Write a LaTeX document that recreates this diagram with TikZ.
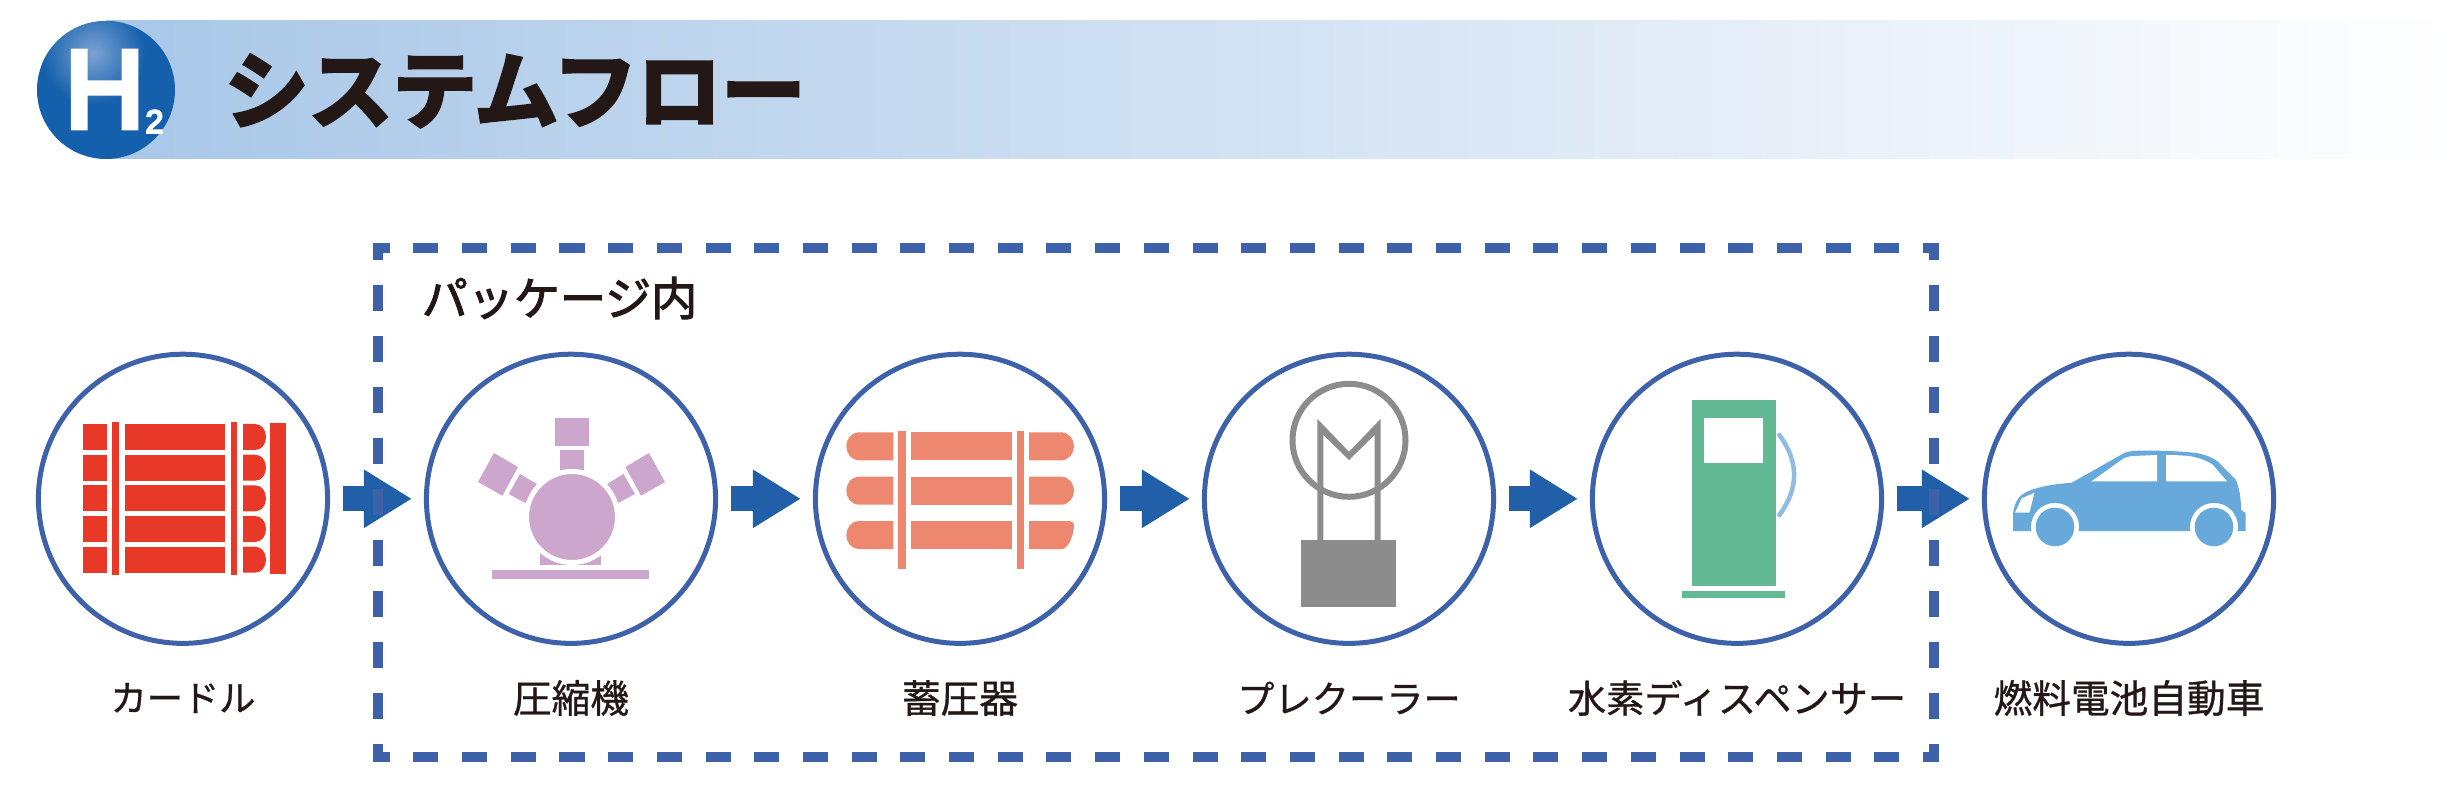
\documentclass[tikz,border=0pt]{standalone}
\usepackage{fontspec}
\setmainfont[FakeBold=0.8]{Noto Sans CJK JP}
\newfontfamily\logofont[FakeBold=6]{Liberation Sans}
\newfontfamily\titlefont[FakeBold=4]{Noto Sans CJK JP Bold}
\newfontfamily\pkgfont[FakeBold=2.2]{Noto Sans CJK JP}
\usetikzlibrary{arrows.meta}

\definecolor{barblue}{HTML}{A8C7E8}
\definecolor{barmid}{HTML}{CADCF1}
\definecolor{logoblue}{HTML}{1460AC}
\definecolor{logolight}{HTML}{7BA2D3}
\definecolor{ringblue}{HTML}{3E62A9}
\definecolor{arrowblue}{HTML}{225FA9}
\definecolor{inkblack}{HTML}{231815}
\definecolor{curdlered}{HTML}{E73828}
\definecolor{compmauve}{HTML}{CCA6CC}
\definecolor{accusalmon}{HTML}{EE8770}
\definecolor{coolgray}{HTML}{8C8C8C}
\definecolor{pumpgreen}{HTML}{64B995}
\definecolor{hoseblue}{HTML}{8FBDE2}
\definecolor{carblue}{HTML}{68A9DC}

\tikzset{
    stage/.style={circle, draw=ringblue, line width=.05cm, minimum size=2.89cm, inner sep=0pt},
    stagetext/.style={text=inkblack, inner sep=0pt},
    flowarrow/.style={arrowblue, line width=.253cm, shorten >=.12cm, shorten <=.13cm, -{Triangle[length=.48cm,width=.55cm]}},
    pkgedge/.style={ringblue, line width=.1cm},
    pkgwide/.style={pkgedge, dash pattern=on .25cm off .2367cm, dash phase=.08cm},
    pkgtall/.style={pkgedge, dash pattern=on .26cm off .25cm, dash phase=.09cm},
}

\begin{document}
\begin{tikzpicture}[x=.01cm, y=-.01cm]
    \useasboundingbox (0,0) rectangle (2453,785);

    \shade[left color=barblue, middle color=barmid, right color=white] (106,21) rectangle (2453,159);
    \fill[logoblue] (106,90) circle[radius=69];
    \begin{scope}
        \clip (106,90) circle[radius=69];
        \shade[inner color=logolight, outer color=logoblue] (93,53) circle[radius=52];
    \end{scope}
    \node[inner sep=0pt, white] (logoH) at (104.5,89.5) {\logofont\fontsize{31}{34}\selectfont H};
    \node[inner sep=0pt, white] (logotwo) at (154.5,121.5) {\logofont\fontsize{9.2}{10}\selectfont 2};
    \node[inner sep=0pt, text=inkblack] (title) at (515,91) {\titlefont\fontsize{23.9}{26}\selectfont システムフロー};

    \foreach \i/\x/\s/\t in {1/183/10.3/カードル, 2/571/11/圧縮機, 3/960/11/蓄圧器, 4/1349/10.6/プレクーラー, 5/1737/10.85/水素ディスペンサー, 6/2129/11/燃料電池自動車} {
        \node[stage] (stage\i) at (\x,498.8) {};
        \node[stagetext] (name\i) at (\x,698) {\fontsize{\s}{12}\selectfont\t};
    }
    \foreach \a/\b in {1/2, 2/3, 3/4, 4/5, 5/6} {
        \draw[flowarrow] (stage\a) -- (stage\b);
    }

    \coordinate (boxNW) at (377.7,247.6);
    \coordinate (boxNE) at (1934.3,247.6);
    \coordinate (boxSW) at (377.7,756.7);
    \coordinate (boxSE) at (1934.3,756.7);
    \draw[pkgwide] ([xshift=-.05cm]boxNW) -- ([xshift=.05cm]boxNE);
    \draw[pkgwide] ([xshift=-.05cm]boxSW) -- ([xshift=.05cm]boxSE);
    \draw[pkgtall] ([yshift=.05cm]boxNW) -- ([yshift=-.05cm]boxSW);
    \draw[pkgtall] ([yshift=.05cm]boxNE) -- ([yshift=-.05cm]boxSE);
    \node[inner sep=0pt, text=inkblack] (pkgname) at (559.5,298) {\pkgfont\fontsize{13.1}{14}\selectfont パッケージ内};

    \foreach \y in {424,454.7,485.3,516,546.7} {
        \fill[curdlered] (83,\y) rectangle ++(23.6,26);
        \fill[curdlered] (124.5,\y) rectangle ++(100.5,26);
        \fill[curdlered] (243,\y) -- (255,\y) .. controls (262,\y) and (266,\y+6) .. (266,\y+13)
            .. controls (266,\y+20) and (262,\y+26) .. (255,\y+26) -- (243,\y+26) -- cycle;
    }
    \fill[curdlered] (112,422) rectangle (119,575);
    \fill[curdlered] (230.6,422) rectangle (237.2,575);
    \fill[curdlered] (270.4,423) rectangle (285.7,574.3);

    \fill[compmauve] (555,418) rectangle (589,445.7);
    \fill[compmauve] (560,450) rectangle (583.7,475);
    \fill[compmauve] (494,453) -- (518,467) -- (502.5,495.7) -- (478,482) -- cycle;
    \fill[compmauve] (520,474) -- (537,484) -- (525.5,503) -- (508.7,494) -- cycle;
    \fill[compmauve] (649,453) -- (665,482) -- (641,495.7) -- (625.5,467) -- cycle;
    \fill[compmauve] (623.5,474) -- (635,494) -- (618,503) -- (607,484) -- cycle;
    \fill[compmauve] (540,550) rectangle (601,565);
    \fill[compmauve] (492,570) rectangle (649,579);
    \draw[white, line width=.05cm, fill=compmauve] (572,517) circle[radius=45.5];

    \foreach \y in {432.3,476.7,521} {
        \fill[accusalmon] (893.3,\y) -- (860,\y) .. controls (851,\y) and (846.3,\y+7) .. (846.3,\y+14)
            .. controls (846.3,\y+21) and (851,\y+28) .. (860,\y+28) -- (893.3,\y+28) -- cycle;
        \fill[accusalmon] (911,\y) rectangle (1012,\y+28);
    }
    \foreach \y in {432.3,476.7} {
        \fill[accusalmon] (1029,\y) -- (1061,\y) .. controls (1069,\y) and (1074,\y+7) .. (1074,\y+14)
            .. controls (1074,\y+21) and (1069,\y+28) .. (1061,\y+28) -- (1029,\y+28) -- cycle;
    }
    \fill[accusalmon] (1029,521) -- (1070,521) .. controls (1073,521) and (1074,523) .. (1074,527)
        .. controls (1073,537) and (1068,549) .. (1062,549) -- (1029,549) -- cycle;
    \fill[accusalmon] (898.4,430.7) rectangle (906,568.7);
    \fill[accusalmon] (1017,430.7) rectangle (1024,568.7);

    \draw[coolgray, line width=.06cm] (1349,440.3) circle[radius=56.5];
    \fill[coolgray] (1301,540) rectangle (1396,606.7);
    \fill[coolgray] (1317.4,541) -- (1317.4,419) -- (1349,451.7) -- (1380.6,419) -- (1380.6,541)
        -- (1374.6,541) -- (1374.6,435) -- (1349,460) -- (1323.4,435) -- (1323.4,541) -- cycle;

    \fill[pumpgreen] (1691.6,400) rectangle (1775.8,585.7);
    \fill[white] (1704.4,418.3) rectangle (1763,462.7);
    \fill[pumpgreen] (1682.4,590.7) rectangle (1785,597.7);
    \draw[hoseblue, line width=.045cm, line cap=round] (1779.4,435) .. controls (1799,462) and (1799,488) .. (1779.4,515);

    \fill[carblue] (2013,531) -- (2013,513.3) .. controls (2015,500) and (2020,495) .. (2027,491.7)
        .. controls (2040,486) and (2055,484) .. (2071.7,482.7) -- (2123.8,453.3)
        .. controls (2130,450) and (2145,450.5) .. (2157,450.7) .. controls (2175,451) and (2190,452) .. (2197.8,453.3)
        .. controls (2207,455) and (2213,458) .. (2218,461.7) .. controls (2224,468) and (2230,474) .. (2236,480)
        .. controls (2240,490) and (2241,500) .. (2241,510) -- (2245.7,513) -- (2245.7,531) -- cycle;
    \fill[white] (2091.6,481.3) -- (2123.8,458.3) .. controls (2128,456.5) and (2132,456) .. (2134,456)
        -- (2157,455) -- (2157,481.3) -- cycle;
    \fill[white] (2166,455) .. controls (2180,455) and (2190,456) .. (2192.7,456.7)
        .. controls (2203,459) and (2209,462) .. (2213,465) -- (2227,481.3) -- (2166,481.3) -- cycle;
    \fill[white] (2034.5,492.7) -- (2021.7,498.3) -- (2015,512.7) -- (2029.4,512.7) -- cycle;
    \foreach \x in {2055,2214} {
        \fill[white] (\x,527) circle[radius=24];
        \fill[carblue] (\x,527) circle[radius=19.3];
    }
\end{tikzpicture}
\end{document}
